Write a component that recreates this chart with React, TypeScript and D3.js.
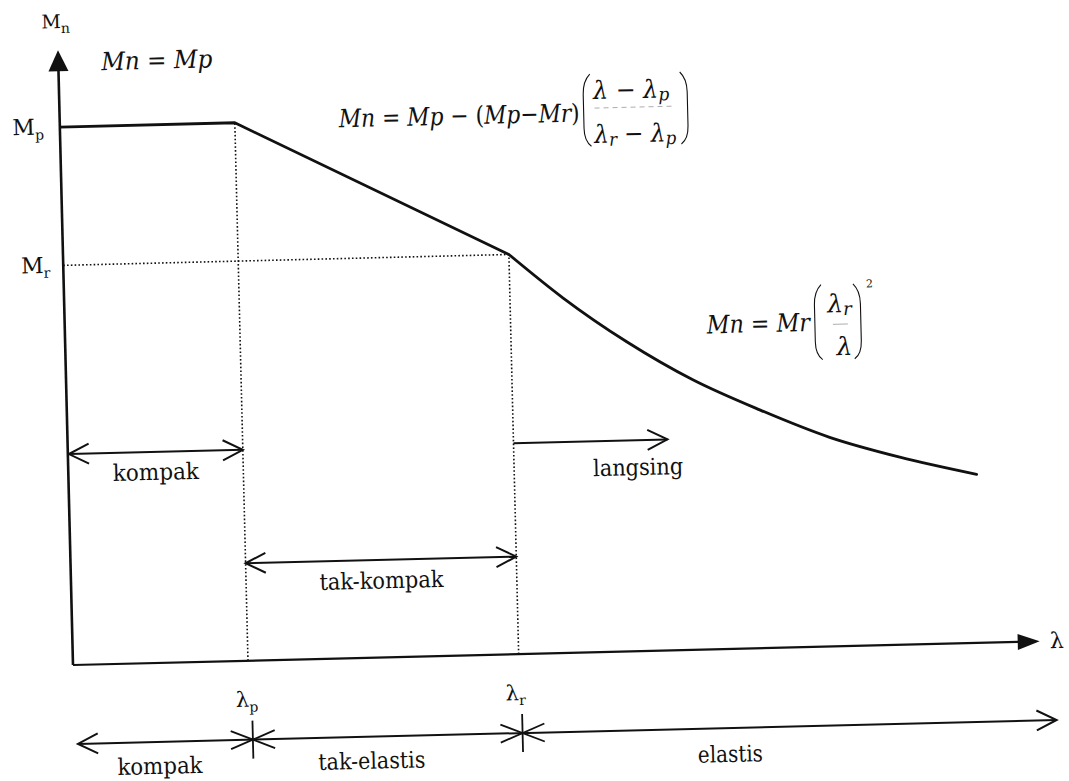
import React from "react";
import * as d3 from "d3";

// Slenderness (λ) and nominal moment (Mn), in plot units
const lambdaAxisMax = 100;
const momentAxisMax = 100;
const lambdaP = 18.1;
const lambdaR = 46.1;
const momentP = 87.5;
const momentR = 65.0;

// Plastic plateau followed by the linear inelastic transition
const inelasticLambda = [0, lambdaP, lambdaR];
const inelasticMoment = [momentP, momentP, momentR];

// Elastic lateral-torsional buckling branch
const elasticLambda = [46.1, 51.6, 58.1, 64.8, 71.7, 78.8, 86.0, 93.9];
const elasticMoment = [65.0, 57.7, 50.3, 43.9, 38.7, 34.0, 30.5, 27.4];

// Section classes (inside the plot) and behaviour ranges (below the axis)
const sectionClasses = ["kompak", "tak-kompak", "langsing"];
const behaviourClasses = ["kompak", "tak-elastis", "elastis"];

const SERIF = "'DejaVu Serif', serif";
const INK = "#111";

function openHead(tipX: number, tipY: number, dir: number) {
  // dir = -1 points left, +1 points right
  return `M${tipX - dir * 20},${tipY - 10} L${tipX},${tipY} L${tipX - dir * 20},${tipY + 10}`;
}

function Asterisk({ cx, cy }: { cx: number; cy: number }) {
  return (
    <g stroke={INK} strokeWidth={1.8} fill="none">
      <line x1={cx} y1={cy - 19} x2={cx} y2={cy + 19} />
      <line x1={cx - 22} y1={cy - 9} x2={cx + 22} y2={cy + 9} />
      <line x1={cx - 22} y1={cy + 9} x2={cx + 22} y2={cy - 9} />
    </g>
  );
}

function Paren({ x, top, bottom, side }: { x: number; top: number; bottom: number; side: "l" | "r" }) {
  const d = side === "l" ? 7 : -7;
  return (
    <path
      d={`M${x + d},${top} Q${x},${top + 7} ${x},${top + 20} L${x},${bottom - 18} Q${x},${bottom - 5} ${x + d},${bottom}`}
      fill="none"
      stroke={INK}
      strokeWidth={1.1}
    />
  );
}

// A word label squeezed to a given width
function Word({ x, y, w, text }: { x: number; y: number; w: number; text: string }) {
  return (
    <text x={x} y={y} textAnchor="middle" fontSize={23} textLength={w} lengthAdjust="spacingAndGlyphs">
      {text}
    </text>
  );
}

export default function App() {
  const x = d3.scaleLinear().domain([0, lambdaAxisMax]).range([0, 967]);
  const y = d3.scaleLinear().domain([0, momentAxisMax]).range([0, -615]);

  const plateauPath = d3
    .line<number>()
    .x((_, i) => x(inelasticLambda[i]))
    .y((d) => y(d))(inelasticMoment) as string;

  const elasticPath = d3
    .line<number>()
    .x((_, i) => x(elasticLambda[i]))
    .y((d) => y(d))
    .curve(d3.curveMonotoneX)(elasticMoment) as string;

  const xp = x(lambdaP);
  const xr = x(lambdaR);
  const upperRow = -211;
  const lowerRow = -97.5;
  const scaleRow = 79;

  return (
    <svg
      width={1069}
      height={781}
      viewBox="0 0 1069 781"
      fill={INK}
      style={{ position: "absolute", left: 0, top: 0, background: "#fff", fontFamily: SERIF }}
    >
      <rect width={1069} height={781} fill="#fff" />
      <g transform="translate(73,665) rotate(-1.4)">
        {/* Axes */}
        <line x1={0} y1={0} x2={0} y2={y(momentAxisMax) + 20} stroke={INK} strokeWidth={2.6} />
        <path
          d={`M0,${y(momentAxisMax)} L-10,${y(momentAxisMax) + 21} L10,${y(momentAxisMax) + 21} Z`}
          fill={INK}
        />
        <line x1={0} y1={0} x2={x(lambdaAxisMax) - 20} y2={0} stroke={INK} strokeWidth={2.2} />
        <path
          d={`M${x(lambdaAxisMax)},0 L${x(lambdaAxisMax) - 22},-8 L${x(lambdaAxisMax) - 22},8 Z`}
          fill={INK}
        />

        {/* Dotted reference lines */}
        <g stroke={INK} strokeWidth={1.6} strokeDasharray="1.6 2.2" fill="none">
          <line x1={xp} y1={0} x2={xp} y2={y(momentP)} />
          <line x1={xr} y1={0} x2={xr} y2={y(momentR)} />
          <line x1={0} y1={y(momentR)} x2={xr} y2={y(momentR)} />
        </g>

        {/* Nominal moment curve */}
        <path d={plateauPath} fill="none" stroke={INK} strokeWidth={2.8} strokeLinejoin="round" />
        <path d={elasticPath} fill="none" stroke={INK} strokeWidth={2.8} strokeLinecap="round" />

        {/* Section class arrows */}
        <g stroke={INK} strokeWidth={2} fill="none">
          <line x1={1} y1={upperRow} x2={xp} y2={upperRow} />
          <path d={openHead(1, upperRow, -1)} />
          <path d={openHead(xp, upperRow, 1)} />
          <line x1={xp} y1={lowerRow} x2={xr} y2={lowerRow} />
          <path d={openHead(xp, lowerRow, -1)} />
          <path d={openHead(xr, lowerRow, 1)} />
          <line x1={xr} y1={upperRow} x2={xr + 154} y2={upperRow} />
          <path d={openHead(xr + 154, upperRow, 1)} />
        </g>
        <Word x={xp / 2} y={-183} w={86} text={sectionClasses[0]} />
        <Word x={(xp + xr) / 2} y={-69} w={124} text={sectionClasses[1]} />
        <Word x={xr + 124} y={-176} w={90} text={sectionClasses[2]} />

        {/* Behaviour scale below the axis */}
        <g stroke={INK} strokeWidth={2} fill="none">
          <line x1={3} y1={scaleRow} x2={982} y2={scaleRow} />
          <path d={openHead(3, scaleRow, -1)} />
          <path d={openHead(982, scaleRow, 1)} />
        </g>
        <Asterisk cx={xp + 3} cy={scaleRow} />
        <Asterisk cx={xr + 2} cy={scaleRow} />
        <Word x={xp / 2 - 3} y={111} w={85} text={behaviourClasses[0]} />
        <Word x={(xp + xr) / 2 - 14} y={111} w={107} text={behaviourClasses[1]} />
        <Word x={655} y={113} w={65} text={behaviourClasses[2]} />

        {/* Axis symbols */}
        <text x={xp - 13} y={46} fontSize={21}>
          λ<tspan fontSize={14} dy={5}>p</tspan>
        </text>
        <text x={xr - 14} y={46} fontSize={21}>
          λ<tspan fontSize={14} dy={5}>r</tspan>
        </text>
        <text x={x(lambdaAxisMax) + 10} y={7} fontSize={22}>
          λ
        </text>
        <text x={-16} y={-637} fontSize={19}>
          M<tspan fontSize={14} dy={5}>n</tspan>
        </text>
        <text x={-16} y={y(momentP) + 7} textAnchor="end" fontSize={22}>
          M<tspan fontSize={14} dy={5}>p</tspan>
        </text>
        <text x={-13} y={y(momentR) + 7} textAnchor="end" fontSize={22}>
          M<tspan fontSize={14} dy={5}>r</tspan>
        </text>

        <g fontSize={25}>
          {/* Mn = Mp */}
          <g transform="translate(43,-594)">
            <text x={0} y={0} textLength={111} lengthAdjust="spacingAndGlyphs">
              <tspan fontStyle="italic">Mn</tspan> = <tspan fontStyle="italic">Mp</tspan>
            </text>
          </g>

          {/* Inelastic range */}
          <g transform="translate(279,-531)">
            <text x={0} y={0} textLength={241} lengthAdjust="spacingAndGlyphs">
              <tspan fontStyle="italic">Mn</tspan> = <tspan fontStyle="italic">Mp</tspan> − (
              <tspan fontStyle="italic">Mp</tspan>−<tspan fontStyle="italic">Mr</tspan>)
            </text>
            <Paren x={245} top={-47} bottom={25} side="l" />
            <text x={293} y={-22} textAnchor="middle" textLength={76} lengthAdjust="spacingAndGlyphs">
              <tspan fontStyle="italic">λ</tspan> − <tspan fontStyle="italic">λ</tspan>
              <tspan fontStyle="italic" fontSize={18} dy={3}>p</tspan>
            </text>
            <line x1={256} y1={-13} x2={333} y2={-13} stroke="#999" strokeWidth={0.8} strokeDasharray="5 4" />
            <text x={296} y={22} textAnchor="middle" textLength={82} lengthAdjust="spacingAndGlyphs">
              <tspan fontStyle="italic">λ</tspan>
              <tspan fontStyle="italic" fontSize={18} dy={3}>r</tspan>
              <tspan dy={-3}> − </tspan>
              <tspan fontStyle="italic">λ</tspan>
              <tspan fontStyle="italic" fontSize={18} dy={3}>p</tspan>
            </text>
            <Paren x={349} top={-47} bottom={25} side="r" />
          </g>

          {/* Elastic range */}
          <g transform="translate(642,-316)">
            <text x={0} y={0} textLength={103} lengthAdjust="spacingAndGlyphs">
              <tspan fontStyle="italic">Mn</tspan> = <tspan fontStyle="italic">Mr</tspan>
            </text>
            <Paren x={108} top={-46} bottom={29} side="l" />
            <text x={133} y={-18} textAnchor="middle">
              <tspan fontStyle="italic">λ</tspan>
              <tspan fontStyle="italic" fontSize={18} dy={3}>r</tspan>
            </text>
            <line x1={126} y1={-6} x2={141} y2={-6} stroke="#999" strokeWidth={0.8} />
            <text x={137} y={25} textAnchor="middle">
              <tspan fontStyle="italic">λ</tspan>
            </text>
            <Paren x={154} top={-46} bottom={29} side="r" />
            <text x={160} y={-42} fontSize={11}>
              2
            </text>
          </g>
        </g>
      </g>
    </svg>
  );
}
